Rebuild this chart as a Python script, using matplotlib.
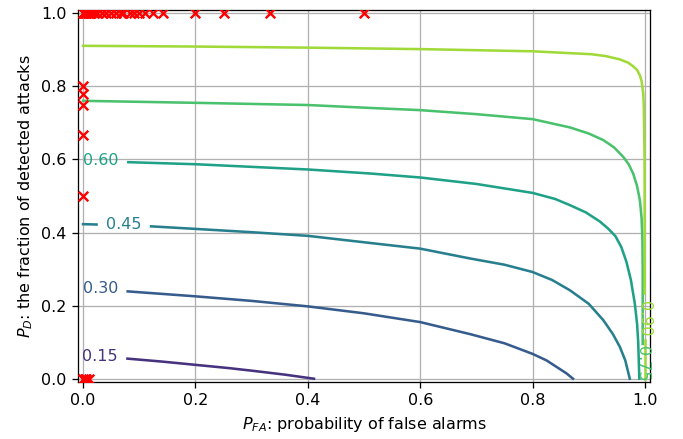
import matplotlib
matplotlib.use("Agg")
import matplotlib.pyplot as plt
import numpy as np

# contour levels and the points
levels = [0.15, 0.30, 0.45, 0.60, 0.75, 0.90]

x015 = [0.079, 0.14, 0.2, 0.26, 0.306, 0.36, 0.411]
y015 = [0.055, 0.047, 0.038, 0.029, 0.021, 0.011, 0.0]

x030 = [0.0795, 0.2, 0.3, 0.4, 0.5, 0.6, 0.689, 0.75, 0.8, 0.825, 0.843, 0.86, 0.872]
y030 = [0.239, 0.2255, 0.213, 0.198, 0.179, 0.155, 0.122, 0.097, 0.068, 0.05, 0.032, 0.015, 0.0]

x045_stub = [0.0, 0.024]
y045_stub = [0.423, 0.422]
x045 = [0.121, 0.2, 0.3, 0.4, 0.511, 0.6, 0.689, 0.75, 0.8, 0.835, 0.8665, 0.9, 0.926,
        0.943, 0.9555, 0.965, 0.973]
y045 = [0.417, 0.41, 0.401, 0.391, 0.3715, 0.356, 0.329, 0.312, 0.292, 0.27, 0.242, 0.205,
        0.16, 0.122, 0.0866, 0.05, 0.0]

x060 = [0.0806, 0.2, 0.4, 0.511, 0.6, 0.7, 0.8, 0.84, 0.8665, 0.895, 0.92, 0.935, 0.9475,
        0.958, 0.967, 0.975, 0.982, 0.986, 0.988, 0.99]
y060 = [0.5926, 0.587, 0.5726, 0.5616, 0.5507, 0.533, 0.5085, 0.492, 0.475, 0.455, 0.43,
        0.41, 0.39, 0.36, 0.32, 0.27, 0.205, 0.15, 0.1, 0.0]

x075 = [0.0, 0.2, 0.4, 0.511, 0.6, 0.7, 0.8, 0.8665, 0.9, 0.926, 0.945, 0.9614, 0.971,
        0.979, 0.986, 0.991, 0.994, 0.9955, 0.996, 0.996]
y075 = [0.7605, 0.755, 0.749, 0.741, 0.735, 0.724, 0.7104, 0.6877, 0.671, 0.653, 0.633,
        0.607, 0.587, 0.5616, 0.527, 0.488, 0.44, 0.38, 0.3, 0.095]

x090 = [0.0, 0.2, 0.4, 0.6, 0.8, 0.905, 0.93, 0.955, 0.97, 0.979, 0.986, 0.991, 0.994,
        0.997, 0.998, 0.9993, 0.9995]
y090 = [0.911, 0.909, 0.906, 0.902, 0.896, 0.888, 0.883, 0.874, 0.865, 0.855, 0.845, 0.83,
        0.815, 0.78, 0.74, 0.6, 0.233]
x090_low = [0.9995, 0.9995]
y090_low = [0.105, 0.0]

# operating points (red crosses)
pts_x = [0.0, 0.002, 0.004, 0.006, 0.008, 0.01, 0.0125, 0.015, 0.02, 0.025, 0.0333,
         0.04, 0.05, 0.0588, 0.0667, 0.0714, 0.0833, 0.0909, 0.1, 0.111, 0.125, 0.143,
         0.2, 0.25, 0.333, 0.5,
         0.0, 0.0, 0.0, 0.0, 0.0,
         0.0, 0.003, 0.006, 0.01]
pts_y = [1.0] * 26 + [0.8, 0.778, 0.75, 0.667, 0.5] + [0.0, 0.0, 0.0, 0.0]

dpi = 115
fig = plt.figure(figsize=(683 / dpi, 439 / dpi), dpi=dpi)
ax = fig.add_axes([0.1142, 0.1298, 0.8375, 0.8474])

cmap = plt.get_cmap("viridis")
norm = matplotlib.colors.Normalize(0.0, 1.05)
col = {lv: cmap(norm(lv)) for lv in levels}

ax.plot(x015, y015, color=col[0.15], lw=1.6)
ax.plot(x030, y030, color=col[0.30], lw=1.6)
ax.plot(x045_stub, y045_stub, color=col[0.45], lw=1.6)
ax.plot(x045, y045, color=col[0.45], lw=1.6)
ax.plot(x060, y060, color=col[0.60], lw=1.6)
ax.plot(x075, y075, color=col[0.75], lw=1.6)
ax.plot(x090, y090, color=col[0.90], lw=1.6)
ax.plot(x090_low, y090_low, color=col[0.90], lw=1.6)

# inline contour labels
lab = [(0.029, 0.061, 0.15, 0), (0.0315, 0.2466, 0.30, 0), (0.0718, 0.421, 0.45, 0),
       (0.0315, 0.598, 0.60, 0), (1.0, 0.165, 0.90, -90), (0.996, 0.04, 0.75, -90)]
for lx, ly, lv, rot in lab:
    ax.text(lx, ly, "%.2f" % lv, color=col[lv], fontsize=10, rotation=rot,
            ha="center", va="center")

ax.scatter(pts_x, pts_y, marker="x", c="red", s=36, zorder=5)

ax.set_xlim(-0.009, 1.009)
ax.set_ylim(-0.009, 1.009)
ax.grid(True)
ax.set_xlabel("$P_{FA}$: probability of false alarms")
ax.set_ylabel("$P_D$: the fraction of detected attacks")

fig.savefig("out.png", dpi=dpi)
